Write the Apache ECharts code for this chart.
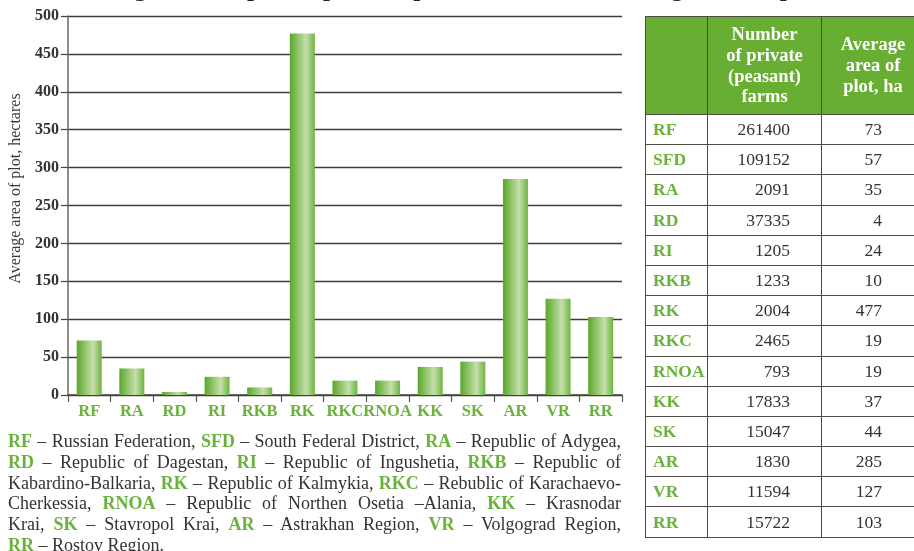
<!DOCTYPE html>
<html>
<head>
<meta charset="utf-8">
<script src="https://cdn.jsdelivr.net/npm/echarts@6/dist/echarts.min.js"></script>
<style>
html, body { margin:0; padding:0; background:#fff; overflow:hidden; }
#chart { position:absolute; left:0; top:0; width:914px; height:551px; }
#notes { position:absolute; left:8px; top:431px; width:613px; font-family:"Liberation Serif", serif; font-size:18px; line-height:20.8px; color:#333; }
#notes .ln { text-align:justify; text-align-last:justify; white-space:nowrap; }
#notes .ln.last { text-align-last:left; }
#notes b { color:#6ab23c; }
#tbl { position:absolute; left:645px; top:16px; width:280px; border-collapse:collapse; font-family:"Liberation Serif", serif; font-size:17.5px; color:#333; table-layout:fixed; }
#tbl td, #tbl th { border:1.5px solid #4d4a47; height:29.2px; padding:0; }
#tbl th { background:#67ae33; color:#fff; font-weight:bold; font-size:18.5px; line-height:20.7px; height:97px; }
#tbl td.r { color:#6ab23c; font-weight:bold; text-align:left; padding-left:7px; }
#tbl td.n { text-align:right; }
</style>
</head>
<body>
<div id="chart"></div>
<div id="notes">
<div class="ln"><b>RF</b> – Russian Federation, <b>SFD</b> – South Federal District, <b>RA</b> – Republic of Adygea,</div>
<div class="ln"><b>RD</b> – Republic of Dagestan, <b>RI</b> – Republic of Ingushetia, <b>RKB</b> – Republic of</div>
<div class="ln">Kabardino-Balkaria, <b>RK</b> – Republic of Kalmykia, <b>RKC</b> – Rebublic of Karachaevo-</div>
<div class="ln">Cherkessia, <b>RNOA</b> – Republic of Northen Osetia –Alania, <b>KK</b> – Krasnodar</div>
<div class="ln">Krai, <b>SK</b> – Stavropol Krai, <b>AR</b> – Astrakhan Region, <b>VR</b> – Volgograd Region,</div>
<div class="ln last"><b>RR</b> – Rostov Region.</div>
</div>
<table id="tbl"></table>
<script>
// bar chart data
var categories = ['RF', 'RA', 'RD', 'RI', 'RKB', 'RK', 'RKC', 'RNOA', 'KK', 'SK', 'AR', 'VR', 'RR'];
var plotArea = [72, 35, 4, 24, 10, 477, 19, 19, 37, 44, 285, 127, 103];

// table data
var tableRegions = ['RF', 'SFD', 'RA', 'RD', 'RI', 'RKB', 'RK', 'RKC', 'RNOA', 'KK', 'SK', 'AR', 'VR', 'RR'];
var farmCounts = [261400, 109152, 2091, 37335, 1205, 1233, 2004, 2465, 793, 17833, 15047, 1830, 11594, 15722];
var tableArea = [73, 57, 35, 4, 24, 10, 477, 19, 19, 37, 44, 285, 127, 103];

var titlePrefix = 'Average area of plot of ';
var titleRest = 'private (peasant) farms in the regions compared';

function buildTable(){
	var html = '<tr><th style="width:61px"></th>'
		+ '<th style="width:113px">Number<br>of private<br>(peasant)<br>farms</th>'
		+ '<th>Average<br>area of<br>plot, ha</th></tr>';
	for (var i = 0; i < tableRegions.length; i++) {
		html += '<tr><td class="r">' + tableRegions[i] + '</td>'
			+ '<td class="n" style="padding-right:31px">' + farmCounts[i] + '</td>'
			+ '<td class="n" style="padding-right:42px">' + tableArea[i] + '</td></tr>';
	}
	document.getElementById('tbl').innerHTML = html;
}
buildTable();

// shrink a note line a little if it does not fit
var lines = document.querySelectorAll('#notes .ln');
for (var k = 0; k < lines.length; k++) {
	var fs = 18;
	while (lines[k].scrollWidth > 613 && fs > 14) {
		fs -= 0.25;
		lines[k].style.fontSize = fs + 'px';
	}
}

// measure prefix so the visible part of the cut title lands where it should
var ctx = document.createElement('canvas').getContext('2d');
ctx.font = 'bold 19px "DejaVu Serif"';
var prefixW = ctx.measureText(titlePrefix).width;

var chart = echarts.init(document.getElementById('chart'));
var serif = '"Liberation Serif", serif';
var option = {
	animation: false,
	graphic: [{
		type: 'text',
		x: 323 - prefixW,
		y: 1.5,
		style: {
			text: titlePrefix + titleRest,
			font: 'bold 19px "DejaVu Serif"',
			lineHeight: 19,
			verticalAlign: 'bottom',
			fill: '#222'
		}
	}],
	grid: {
		left: 67,
		right: 292,
		top: 16,
		bottom: 156
	},
	xAxis: {
		type: 'category',
		data: categories,
		axisLine: { lineStyle: { color: '#444', width: 1.5 } },
		axisTick: { show: true, length: 7, lineStyle: { color: '#555', width: 1.2 } },
		axisLabel: {
			interval: 0,
			margin: 8,
			color: '#6ab23c',
			fontFamily: serif,
			fontWeight: 'bold',
			fontSize: 16.5
		}
	},
	yAxis: {
		type: 'value',
		min: 0,
		max: 500,
		interval: 50,
		name: 'Average area of plot, hectares',
		nameLocation: 'middle',
		nameGap: 42,
		nameRotate: 90,
		nameTextStyle: {
			color: '#3a3a3a',
			fontFamily: serif,
			fontSize: 16,
			padding: [0, 0, 0, 34]
		},
		axisLine: { show: true, lineStyle: { color: '#666', width: 1.5 } },
		axisTick: { show: true, length: 7, lineStyle: { color: '#444', width: 1.2 } },
		axisLabel: {
			margin: 9,
			color: '#333',
			fontFamily: serif,
			fontWeight: 'bold',
			fontSize: 16
		},
		splitLine: { lineStyle: { color: '#3f3c3a', width: 1.3 } }
	},
	series: [{
		type: 'bar',
		data: plotArea,
		barWidth: 25,
		itemStyle: {
			color: new echarts.graphic.LinearGradient(0, 0, 1, 0, [
				{ offset: 0, color: '#5aa72a' },
				{ offset: 0.65, color: '#c6dfab' },
				{ offset: 1, color: '#6db43f' }
			])
		}
	}]
};
chart.setOption(option);
</script>
</body>
</html>
